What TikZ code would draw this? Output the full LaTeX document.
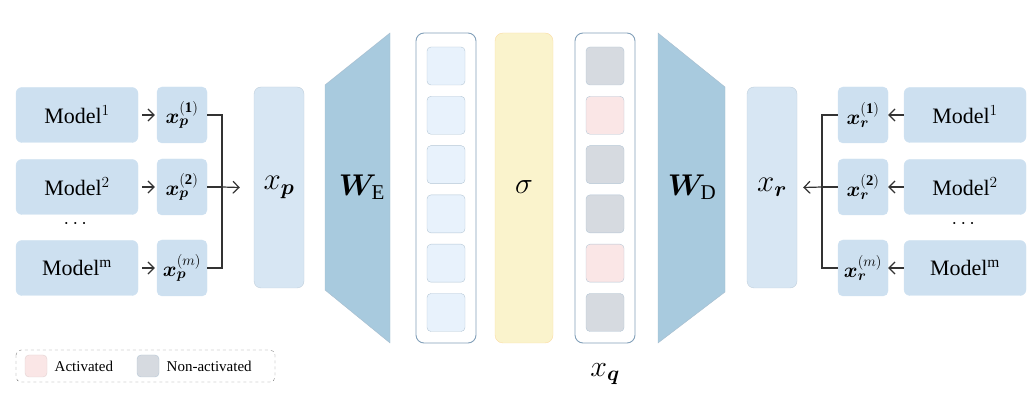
\RequirePackage{fix-cm}
\documentclass[tikz,border=0pt]{standalone}
\usepackage{amsmath,bm}
\usepackage{fontspec}
\setmainfont{Liberation Serif}
\usepackage{tikz}
\usetikzlibrary{arrows.meta,positioning}
\definecolor{boxblue}{RGB}{205,224,240}
\definecolor{deepblue}{RGB}{168,202,222}
\definecolor{paleblue}{RGB}{232,242,252}
\definecolor{palepink}{RGB}{250,230,230}
\definecolor{palegrey}{RGB}{214,218,224}
\definecolor{paleyellow}{RGB}{250,243,204}
\definecolor{edgeblue}{RGB}{130,160,185}
\tikzset{
  model/.style={draw=boxblue,fill=boxblue,rounded corners=6pt,minimum width=122pt,minimum height=55pt,font=\fontsize{22}{24}\selectfont},
  part/.style={draw=boxblue,fill=boxblue,rounded corners=5pt,minimum width=50pt,minimum height=56pt,font=\fontsize{21}{23}\selectfont},
  bar/.style={draw=edgeblue!50,fill=boxblue!80,rounded corners=7pt,minimum width=50pt,minimum height=201pt,font=\fontsize{31}{33}\selectfont},
  big/.style={font=\fontsize{30}{32}\selectfont},
  cell/.style={draw=edgeblue!60,rounded corners=4pt,minimum width=38pt,minimum height=38pt},
  arr/.style={-{Straight Barb[length=6pt]},line width=1.2pt,draw=black!80},
  bus/.style={line width=1.2pt,draw=black!80}
}
\begin{document}
\begin{tikzpicture}[x=1pt,y=-1pt]
  \useasboundingbox (0,0) rectangle (1036,411);

  % left side
  \node[model] (m1) at (77,115) {Model$^1$};
  \node[model] (m2) at (77,187) {Model$^2$};
  \node[model] (mm) at (77,268) {Model\textsuperscript{m}};
  \node[font=\fontsize{20}{22}\selectfont] at (77,224) {$\cdots$};
  \node[part] (p1) at (182,115) {$\bm{x}_{\bm p}^{(\mathbf 1)}$};
  \node[part] (p2) at (182,187) {$\bm{x}_{\bm p}^{(\mathbf 2)}$};
  \node[part] (pm) at (182,268) {$\bm{x}_{\bm p}^{(m)}$};
  \node[bar] (xp) at (279,187.5) {$x_{\bm p}$};
  \foreach \a/\b in {m1/p1,m2/p2,mm/pm}
    \draw[arr] (\a.east) ++(4,0) -- ([xshift=-2pt]\b.west);
  \coordinate (lb) at (222,187);
  \draw[bus] (p1.east) -| (lb) |- (pm.east);
  \draw[bus] (p2.east) -- (lb);
  \draw[arr] (lb) -- ([xshift=-14pt]xp.west);

  % encoder
  \draw[draw=edgeblue!70,fill=deepblue] (325,85) -- (390,33) -- (390,343) -- (325,290) -- cycle;
  \node[big] (we) at (362,187) {$\bm{W}_{\mathrm E}$};

  % latent columns
  \draw[draw=edgeblue,line width=0.9pt,rounded corners=8pt] (416,33) rectangle (476,343);
  \draw[draw=paleyellow!80!orange,fill=paleyellow,rounded corners=8pt] (495,33) rectangle (553,343);
  \node[big] (sig) at (524,187) {$\sigma$};
  \draw[draw=edgeblue,line width=0.9pt,rounded corners=8pt] (575,33) rectangle (635,343);
  \foreach \i/\c in {0/palegrey,1/palepink,2/palegrey,3/palegrey,4/palepink,5/palegrey}{
    \node[cell,fill=paleblue] (e\i) at (446,66+49.3*\i) {};
    \node[cell,fill=\c] (q\i) at (605,66+49.3*\i) {};
  }
  \node[big] (xq) at (605,374) {$x_{\bm q}$};

  % decoder
  \draw[draw=edgeblue!70,fill=deepblue] (658,33) -- (725,87) -- (725,292) -- (658,343) -- cycle;
  \node[big] (wd) at (692,187) {$\bm{W}_{\mathrm D}$};

  % right side
  \node[bar] (xr) at (772,187.5) {$x_{\bm r}$};
  \node[part] (r1) at (863,115) {$\bm{x}_{\bm r}^{(\mathbf 1)}$};
  \node[part] (r2) at (863,187) {$\bm{x}_{\bm r}^{(\mathbf 2)}$};
  \node[part] (rm) at (863,268) {$\bm{x}_{\bm r}^{(m)}$};
  \node[model] (n1) at (965,115) {Model$^1$};
  \node[model] (n2) at (965,187) {Model$^2$};
  \node[model] (nm) at (965,268) {Model\textsuperscript{m}};
  \node[font=\fontsize{20}{22}\selectfont] at (965,224) {$\cdots$};
  \foreach \a/\b in {n1/r1,n2/r2,nm/rm}
    \draw[arr] (\a.west) -- (\b.east);
  \coordinate (rb) at (822,187);
  \draw[bus] (r1.west) -| (rb) |- (rm.west);
  \draw[bus] (r2.west) -- (rb);
  \draw[arr] (rb) -- ([xshift=6pt]xr.east);

  % legend
  \draw[dashed,draw=gray,rounded corners=5pt] (16,350) rectangle (275,382);
  \node[cell,minimum width=22pt,minimum height=22pt,fill=palepink,draw=palepink!80!gray] (la) at (36,366) {};
  \node[right=4pt of la,font=\fontsize{15}{17}\selectfont] {Activated};
  \node[cell,minimum width=22pt,minimum height=22pt,fill=palegrey] (ln) at (148,366) {};
  \node[right=4pt of ln,font=\fontsize{15}{17}\selectfont] {Non-activated};
\end{tikzpicture}
\end{document}
